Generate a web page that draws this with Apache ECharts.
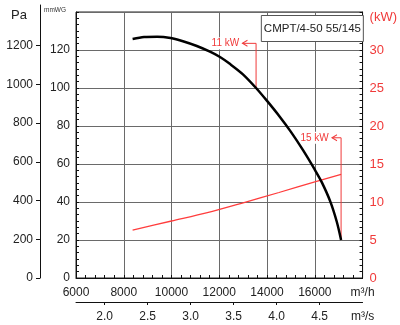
<!DOCTYPE html>
<html>
<head>
<meta charset="utf-8">
<script src="https://cdn.jsdelivr.net/npm/echarts@6/dist/echarts.min.js"></script>
<style>
html,body{margin:0;padding:0;background:#fff;}
#chart{width:400px;height:325px;}
</style>
</head>
<body>
<div id="chart"></div>
<script>
// Pressure curve (m3/h, mmWG)
const flowP = [8370, 8850, 9400, 9960, 10510, 11060, 11610, 12030, 12440, 12990, 13540, 14000, 14500, 15000, 15500, 16000, 16300, 16650, 16920, 17100];
const pressure = [125.8, 126.8, 127.0, 126.3, 124.5, 122.1, 119.1, 116.3, 112.7, 107.2, 100.0, 93.2, 85.4, 76.9, 67.4, 57.0, 50.2, 40.2, 29.6, 20.0];
// Power curve (m3/h, kW)
const flowW = [8370, 10000, 11500, 13000, 14500, 16000, 17100];
const power = [6.3, 7.5, 8.6, 9.9, 11.25, 12.65, 13.65];
// Annotations (m3/h, mmWG)
const ann11Path = [[13540, 100.0], [13540, 123.5], [12970, 123.5]];
const ann11Text = '11 kW';
const ann15Path = [[17100, 20.0], [17100, 73.8], [16720, 73.8]];
const ann15Text = '15 kW';
// Tick labels
const paTicks = [0, 200, 400, 600, 800, 1000, 1200];
const msTicks = [2.0, 2.5, 3.0, 3.5, 4.0, 4.5];
const modelName = 'CMPT/4-50 55/145';
const PA_PER_MMWG = 9.80665;

const RED = '#f03a3a';
const TXT = '#222';
const FONT = 'Liberation Sans, Arial, sans-serif';

const chart = echarts.init(document.getElementById('chart'), null, {renderer: 'canvas'});

function annSeries(path, text) {
  const data = path.map((p, i) => {
    if (i === path.length - 1) {
      return {
        value: p,
        symbol: 'path://M10,0 L0,5 L10,10',
        symbolSize: [5, 6],
        symbolOffset: [2.5, 0],
        itemStyle: {color: 'none', borderColor: RED, borderWidth: 1},
        label: {show: true, position: 'left', distance: 0, formatter: text, color: RED, fontSize: 10,
                fontFamily: FONT, backgroundColor: '#fff', padding: [1, 1, 1, 1]}
      };
    }
    return {value: p, symbol: 'none'};
  });
  return {
    type: 'line', xAxisIndex: 0, yAxisIndex: 0, data: data,
    lineStyle: {color: RED, width: 1}, itemStyle: {color: RED},
    showSymbol: true, silent: true, z: 3
  };
}

const option = {
  animation: false,
  textStyle: {fontFamily: FONT},
  title: [
    {text: 'Pa', left: 6, top: 4, textStyle: {fontSize: 13, fontWeight: 'normal', color: TXT, fontFamily: FONT}},
    {text: modelName, right: 36, top: 15, padding: [8, 3, 7, 3], borderColor: '#555', borderWidth: 1,
     backgroundColor: '#fff', textStyle: {fontSize: 11.5, fontWeight: 'normal', color: TXT, fontFamily: FONT}}
  ],
  grid: [
    {left: 76, top: 12, width: 290, height: 266, show: true, borderColor: '#222', borderWidth: 1, backgroundColor: 'transparent'},
    {left: 40, top: 5, width: 1, height: 273}
  ],
  xAxis: [
    {
      type: 'value', gridIndex: 0, min: 6000, max: 18000, interval: 2000,
      axisLine: {show: true, lineStyle: {color: '#111', width: 1}},
      axisTick: {show: true, inside: true, length: 3, lineStyle: {color: '#111'}},
      minorTick: {show: true, splitNumber: 5, length: 3, lineStyle: {color: '#111'}},
      splitLine: {show: true, lineStyle: {color: '#6a6a6a', width: 1}},
      axisLabel: {fontSize: 12, color: TXT, margin: 9, formatter: v => v === 18000 ? 'm³/h' : String(v)}
    },
    {
      type: 'value', gridIndex: 0, position: 'bottom', offset: 24, min: 6000, max: 18000,
      axisLine: {show: true, onZero: false, lineStyle: {color: '#111', width: 1}},
      axisTick: {show: true, inside: false, length: 3, customValues: msTicks.map(v => v * 3600), lineStyle: {color: '#111'}},
      axisLabel: {fontSize: 12, color: TXT, margin: 9, customValues: msTicks.map(v => v * 3600).concat([18000]),
        formatter: v => v === 18000 ? 'm³/s' : (v / 3600).toFixed(1)},
      splitLine: {show: false}
    },
    {type: 'value', gridIndex: 1, min: 0, max: 1, show: false}
  ],
  yAxis: [
    {
      type: 'value', gridIndex: 0, position: 'left', min: 0, max: 140, interval: 20,
      axisLine: {show: true, lineStyle: {color: '#111', width: 1}},
      axisTick: {show: true, inside: true, length: 3, lineStyle: {color: '#111'}},
      minorTick: {show: true, splitNumber: 6, length: 3, lineStyle: {color: '#111'}},
      splitLine: {show: true, lineStyle: {color: '#6a6a6a', width: 1}},
      axisLabel: {fontSize: 12, color: TXT, margin: 6,
        formatter: v => v === 140 ? '{u|mmWG}' : String(v),
        rich: {u: {fontSize: 6.5, color: '#333', padding: [0, 4, 3, 0], fontFamily: FONT}}}
    },
    {
      type: 'value', gridIndex: 0, position: 'right', min: 0, max: 35, interval: 5,
      axisLine: {show: true, lineStyle: {color: '#111', width: 1}},
      axisTick: {show: true, inside: true, length: 3, lineStyle: {color: '#111'}},
      minorTick: {show: true, splitNumber: 6, length: 3, lineStyle: {color: '#111'}},
      splitLine: {show: false},
      axisLabel: {fontSize: 13, color: RED, margin: 7,
        formatter: v => v === 35 ? '{k|(kW)}' : String(v),
        rich: {k: {fontSize: 13, color: RED, padding: [10, 0, 0, 0], fontFamily: FONT}}}
    },
    {
      type: 'value', gridIndex: 1, position: 'left', min: 0, max: 273 / 266 * 140 * PA_PER_MMWG,
      axisLine: {show: true, lineStyle: {color: '#111', width: 1}},
      axisTick: {show: true, inside: false, length: 4, customValues: paTicks, lineStyle: {color: '#111'}},
      axisLabel: {fontSize: 12, color: TXT, margin: 7, customValues: paTicks, formatter: v => String(v)},
      splitLine: {show: false}
    }
  ],
  series: [
    {
      name: 'pressure', type: 'line', xAxisIndex: 0, yAxisIndex: 0,
      data: flowP.map((f, i) => [f, pressure[i]]),
      smooth: 0.3, symbol: 'none',
      lineStyle: {color: '#000', width: 2.5}, z: 4
    },
    {
      name: 'power', type: 'line', xAxisIndex: 0, yAxisIndex: 1,
      data: flowW.map((f, i) => [f, power[i]]),
      smooth: 0.3, symbol: 'none',
      lineStyle: {color: '#ff3d3d', width: 1.3}, z: 3
    },
    annSeries(ann11Path, ann11Text),
    annSeries(ann15Path, ann15Text)
  ]
};
chart.setOption(option);
</script>
</body>
</html>
